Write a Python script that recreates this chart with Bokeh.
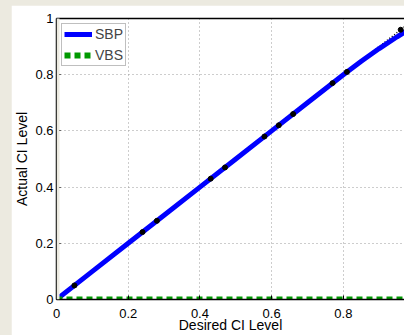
from bokeh.plotting import figure
from bokeh.models import (Range1d, FixedTicker, LinearAxis, Legend, LegendItem,
                          GlobalInlineStyleSheet, BoxAnnotation)
from bokeh.embed import file_html
from bokeh.resources import INLINE

# ---- data ----
desired = [0.0, 0.1, 0.2, 0.3, 0.4, 0.5, 0.6, 0.7, 0.8, 0.85, 0.9, 0.95, 1.0]
sbp_actual = [0.0, 0.1, 0.2, 0.3, 0.4, 0.5, 0.6, 0.7, 0.8, 0.848, 0.893, 0.935, 0.975]
vbs_actual = [0.0, 0.0, 0.0, 0.0, 0.0, 0.0, 0.0, 0.0, 0.0, 0.0, 0.0, 0.0, 0.0]
ref_x = [0.0, 1.0]
ref_y = [0.0, 1.0]
dot_x = [0.05, 0.24, 0.28, 0.43, 0.47, 0.58, 0.62, 0.66, 0.77, 0.81, 0.96]
dot_y = [0.05, 0.24, 0.28, 0.43, 0.47, 0.58, 0.62, 0.66, 0.77, 0.81, 0.96]
x_ticks = [0, 0.2, 0.4, 0.6, 0.8, 1]
x_tick_labels = ["0", "0.2", "0.4", "0.6", "0.8", "1"]
y_ticks = [0, 0.2, 0.4, 0.6, 0.8, 1]
y_tick_labels = ["0", "0.2", "0.4", "0.6", "0.8", "1"]

FONT = "Liberation Sans"
BEIGE = "#ECEAE0"

p = figure(width=393, height=330, output_backend="svg", toolbar_location=None,
           x_range=Range1d(0, 0.9706), y_range=Range1d(0, 1),
           min_border_left=43, min_border_right=0, min_border_top=13,
           min_border_bottom=35, x_axis_label="Desired CI Level",
           y_axis_label="Actual CI Level")
p.margin = (5, 0, 0, 11)
p.stylesheets = [GlobalInlineStyleSheet(css="html, body { background-color: %s; }" % BEIGE)]
p.border_fill_color = "white"
p.background_fill_color = "white"
p.outline_line_color = None

# beige strip at the far left of the canvas (screen units)
p.add_layout(BoxAnnotation(left=0, right=3, top=0, bottom=400,
                           left_units="screen", right_units="screen",
                           top_units="screen", bottom_units="screen",
                           fill_color=BEIGE, fill_alpha=1, line_color=None,
                           level="overlay"))

# grid
for g, t in ((p.xgrid, x_ticks), (p.ygrid, y_ticks)):
    g.ticker = FixedTicker(ticks=t)
    g.grid_line_color = "#9a9a9a"
    g.grid_line_dash = "1 3"
    g.grid_line_width = 1

# axes
def style_axis(ax, ticks, labels):
    ax.ticker = FixedTicker(ticks=ticks)
    ax.major_label_overrides = dict(zip(ticks, labels))
    ax.axis_line_color = "black"
    ax.axis_line_width = 1.5
    ax.major_tick_line_color = "black"
    ax.major_tick_line_width = 1
    ax.major_tick_in = 4
    ax.major_tick_out = 0
    ax.minor_tick_in = 0
    ax.minor_tick_out = 0
    ax.major_label_text_font = FONT
    ax.major_label_text_font_size = "13px"
    ax.major_label_text_color = "black"
    ax.axis_label_text_font = FONT
    ax.axis_label_text_font_size = "14px"
    ax.axis_label_text_font_style = "normal"
    ax.axis_label_text_color = "black"
    ax.axis_label_text_line_height = 1.0

xa = p.xaxis[0]
ya = p.yaxis[0]
style_axis(xa, x_ticks, x_tick_labels)
style_axis(ya, y_ticks, y_tick_labels)
xa.major_label_standoff = 9
xa.axis_label_standoff = -4
ya.major_label_standoff = 3
ya.axis_label_standoff = 2

# top box edge (no labels)
top = LinearAxis(ticker=FixedTicker(ticks=[]), axis_line_color="black",
                 axis_line_width=1.5, major_tick_in=0, major_tick_out=0,
                 minor_tick_in=0, minor_tick_out=0)
p.add_layout(top, "above")

# glyphs
p.line(ref_x, ref_y, line_color="black", line_width=1.5, line_dash="1 2")
r_sbp = p.line(desired, sbp_actual, line_color="#0000ff", line_width=5)
r_vbs = p.line(desired, vbs_actual, line_color="#009900", line_width=6, line_dash="6 4")
p.scatter(dot_x, dot_y, size=5, color="black")

legend = Legend(items=[LegendItem(label="SBP", renderers=[r_sbp]),
                       LegendItem(label="VBS", renderers=[r_vbs])],
                location="top_left")
legend.margin = 5
legend.padding = 2
legend.spacing = 5
legend.glyph_width = 28
legend.glyph_height = 14
legend.label_height = 14
legend.label_standoff = 3
legend.label_text_font = FONT
legend.label_text_font_size = "14px"
legend.border_line_color = "#7f7f7f"
legend.border_line_width = 1
legend.background_fill_color = "white"
legend.background_fill_alpha = 1
p.add_layout(legend)

open("out.html", "w").write(file_html(p, INLINE))
